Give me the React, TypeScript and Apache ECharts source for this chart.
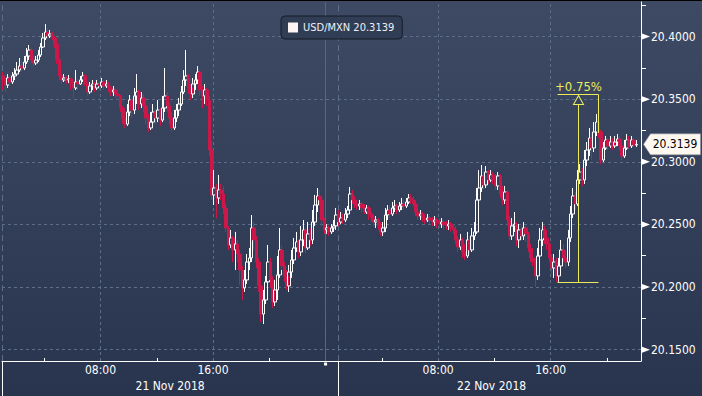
import React, { useEffect, useRef } from 'react';
import * as echarts from 'echarts';

// 10-minute bars of USD/MXN, 21 Nov 2018 01:00 -> 22 Nov 2018 22:00 (hours counted from 21 Nov 00:00)
const START_HOUR = 1;
const BAR_HOURS = 10 / 60;
const FIRST_OPEN = 20.3685;
const CLOSE = [
  20.3653, 20.3613, 20.3669, 20.3637, 20.3685, 20.3700, 20.3732, 20.3764, 20.3748, 20.3796,
  20.3844, 20.3892, 20.3812, 20.3788, 20.3812, 20.3852, 20.3916, 20.3988, 20.4036, 20.4004,
  20.4020, 20.3988, 20.3940, 20.3812, 20.3685, 20.3653, 20.3669, 20.3653, 20.3661, 20.3621,
  20.3589, 20.3637, 20.3621, 20.3653, 20.3685, 20.3621, 20.3557, 20.3605, 20.3621, 20.3589,
  20.3621, 20.3605, 20.3637, 20.3605, 20.3621, 20.3589, 20.3557, 20.3573, 20.3541, 20.3525,
  20.3429, 20.3349, 20.3301, 20.3397, 20.3493, 20.3413, 20.3525, 20.3557, 20.3461, 20.3509,
  20.3445, 20.3349, 20.3270, 20.3317, 20.3397, 20.3349, 20.3413, 20.3333, 20.3429, 20.3525,
  20.3445, 20.3349, 20.3270, 20.3349, 20.3413, 20.3461, 20.3557, 20.3653, 20.3685, 20.3589,
  20.3541, 20.3621, 20.3653, 20.3716, 20.3573, 20.3525, 20.3573, 20.3493, 20.3094, 20.2735,
  20.2791, 20.2711, 20.2775, 20.2743, 20.2631, 20.2472, 20.2336, 20.2392, 20.2296, 20.2344,
  20.2264, 20.2136, 20.1993, 20.2057, 20.2200, 20.2232, 20.2472, 20.2376, 20.2200, 20.2009,
  20.1785, 20.1897, 20.2041, 20.2200, 20.2057, 20.1881, 20.1977, 20.2097, 20.2296, 20.2168,
  20.2089, 20.2009, 20.2120, 20.2216, 20.2312, 20.2360, 20.2280, 20.2376, 20.2456, 20.2312,
  20.2424, 20.2376, 20.2519, 20.2655, 20.2727, 20.2695, 20.2535, 20.2456, 20.2472, 20.2440,
  20.2472, 20.2488, 20.2575, 20.2519, 20.2551, 20.2535, 20.2583, 20.2615, 20.2743, 20.2695,
  20.2663, 20.2647, 20.2663, 20.2631, 20.2599, 20.2631, 20.2583, 20.2551, 20.2519, 20.2535,
  20.2488, 20.2440, 20.2472, 20.2575, 20.2615, 20.2583, 20.2631, 20.2647, 20.2615, 20.2647,
  20.2663, 20.2647, 20.2679, 20.2711, 20.2695, 20.2663, 20.2599, 20.2567, 20.2583, 20.2551,
  20.2535, 20.2551, 20.2535, 20.2519, 20.2535, 20.2519, 20.2503, 20.2519, 20.2496, 20.2488,
  20.2503, 20.2472, 20.2456, 20.2376, 20.2320, 20.2376, 20.2280, 20.2248, 20.2376, 20.2296,
  20.2408, 20.2440, 20.2695, 20.2791, 20.2887, 20.2815, 20.2918, 20.2855, 20.2895, 20.2855,
  20.2807, 20.2887, 20.2743, 20.2695, 20.2759, 20.2535, 20.2408, 20.2488, 20.2503, 20.2376,
  20.2456, 20.2408, 20.2472, 20.2424, 20.2312, 20.2232, 20.2200, 20.2089, 20.2248, 20.2376,
  20.2456, 20.2392, 20.2344, 20.2232, 20.2152, 20.2200, 20.2089, 20.2168, 20.2296, 20.2232,
  20.2200, 20.2392, 20.2583, 20.2727, 20.2663, 20.2855, 20.2918, 20.2855, 20.3014, 20.3094,
  20.3190, 20.3110, 20.3238, 20.3317, 20.3238, 20.3014, 20.3110, 20.3174, 20.3126, 20.3158,
  20.3126, 20.3158, 20.3182, 20.3126, 20.3046, 20.3110, 20.3174, 20.3126, 20.3174, 20.3134,
  20.3139,
];
const HIGH = [
  20.3716, 20.3669, 20.3700, 20.3685, 20.3716, 20.3748, 20.3796, 20.3828, 20.3812, 20.3844,
  20.3908, 20.3932, 20.3908, 20.3852, 20.3844, 20.3892, 20.3948, 20.4028, 20.4099, 20.4068,
  20.4052, 20.4036, 20.4004, 20.3940, 20.3828, 20.3700, 20.3700, 20.3685, 20.3693, 20.3669,
  20.3653, 20.3732, 20.3669, 20.3685, 20.3716, 20.3700, 20.3637, 20.3637, 20.3653, 20.3637,
  20.3653, 20.3645, 20.3669, 20.3653, 20.3653, 20.3637, 20.3605, 20.3605, 20.3589, 20.3573,
  20.3533, 20.3445, 20.3397, 20.3461, 20.3533, 20.3509, 20.3589, 20.3700, 20.3573, 20.3557,
  20.3541, 20.3461, 20.3381, 20.3397, 20.3461, 20.3429, 20.3493, 20.3429, 20.3525, 20.3748,
  20.3557, 20.3477, 20.3397, 20.3413, 20.3461, 20.3509, 20.3605, 20.3732, 20.3892, 20.3700,
  20.3621, 20.3669, 20.3700, 20.3764, 20.3732, 20.3605, 20.3621, 20.3589, 20.3525, 20.3174,
  20.2934, 20.2823, 20.2895, 20.2823, 20.2807, 20.2663, 20.2488, 20.2456, 20.2408, 20.2440,
  20.2376, 20.2296, 20.2168, 20.2136, 20.2264, 20.2312, 20.2575, 20.2519, 20.2408, 20.2232,
  20.2041, 20.1977, 20.2089, 20.2336, 20.2232, 20.2089, 20.2057, 20.2248, 20.2472, 20.2328,
  20.2200, 20.2136, 20.2176, 20.2296, 20.2392, 20.2440, 20.2376, 20.2488, 20.2535, 20.2472,
  20.2519, 20.2472, 20.2615, 20.2735, 20.2791, 20.2775, 20.2727, 20.2551, 20.2503, 20.2488,
  20.2503, 20.2535, 20.2631, 20.2615, 20.2599, 20.2583, 20.2631, 20.2647, 20.2799, 20.2775,
  20.2727, 20.2695, 20.2695, 20.2679, 20.2663, 20.2655, 20.2647, 20.2599, 20.2583, 20.2567,
  20.2551, 20.2519, 20.2519, 20.2631, 20.2655, 20.2647, 20.2679, 20.2695, 20.2663, 20.2679,
  20.2711, 20.2695, 20.2711, 20.2743, 20.2743, 20.2727, 20.2695, 20.2631, 20.2615, 20.2599,
  20.2567, 20.2583, 20.2567, 20.2559, 20.2567, 20.2551, 20.2551, 20.2551, 20.2535, 20.2527,
  20.2535, 20.2519, 20.2503, 20.2488, 20.2408, 20.2424, 20.2392, 20.2344, 20.2440, 20.2408,
  20.2472, 20.2519, 20.2791, 20.2934, 20.2974, 20.2950, 20.2966, 20.2934, 20.2934, 20.2918,
  20.2902, 20.2918, 20.2902, 20.2807, 20.2807, 20.2775, 20.2567, 20.2551, 20.2599, 20.2519,
  20.2503, 20.2488, 20.2519, 20.2488, 20.2440, 20.2344, 20.2312, 20.2232, 20.2312, 20.2472,
  20.2519, 20.2488, 20.2440, 20.2360, 20.2264, 20.2264, 20.2232, 20.2232, 20.2376, 20.2344,
  20.2296, 20.2456, 20.2647, 20.2791, 20.2759, 20.2934, 20.2982, 20.2950, 20.3094, 20.3158,
  20.3270, 20.3238, 20.3317, 20.3381, 20.3349, 20.3254, 20.3158, 20.3206, 20.3190, 20.3206,
  20.3190, 20.3206, 20.3222, 20.3206, 20.3158, 20.3174, 20.3222, 20.3206, 20.3206, 20.3190,
  20.3174,
];
const LOW = [
  20.3573, 20.3557, 20.3589, 20.3605, 20.3621, 20.3653, 20.3685, 20.3716, 20.3716, 20.3732,
  20.3780, 20.3812, 20.3788, 20.3764, 20.3772, 20.3796, 20.3836, 20.3908, 20.3972, 20.3980,
  20.3988, 20.3972, 20.3908, 20.3780, 20.3653, 20.3621, 20.3637, 20.3621, 20.3629, 20.3573,
  20.3509, 20.3573, 20.3589, 20.3613, 20.3637, 20.3605, 20.3525, 20.3541, 20.3573, 20.3557,
  20.3573, 20.3573, 20.3589, 20.3573, 20.3589, 20.3557, 20.3525, 20.3525, 20.3509, 20.3493,
  20.3397, 20.3301, 20.3270, 20.3286, 20.3365, 20.3349, 20.3381, 20.3461, 20.3413, 20.3429,
  20.3397, 20.3301, 20.3238, 20.3254, 20.3286, 20.3301, 20.3317, 20.3286, 20.3317, 20.3397,
  20.3397, 20.3301, 20.3238, 20.3254, 20.3317, 20.3365, 20.3445, 20.3541, 20.3605, 20.3541,
  20.3493, 20.3509, 20.3573, 20.3621, 20.3525, 20.3429, 20.3461, 20.3445, 20.3046, 20.2695,
  20.2655, 20.2551, 20.2663, 20.2695, 20.2583, 20.2440, 20.2296, 20.2312, 20.2200, 20.2136,
  20.2200, 20.2017, 20.1897, 20.1961, 20.2025, 20.2136, 20.2200, 20.2296, 20.2152, 20.1961,
  20.1721, 20.1705, 20.1865, 20.2009, 20.1993, 20.1833, 20.1849, 20.1897, 20.2073, 20.2136,
  20.2041, 20.1977, 20.1961, 20.2073, 20.2184, 20.2280, 20.2232, 20.2248, 20.2328, 20.2272,
  20.2296, 20.2328, 20.2344, 20.2488, 20.2599, 20.2647, 20.2488, 20.2424, 20.2424, 20.2408,
  20.2424, 20.2440, 20.2456, 20.2488, 20.2503, 20.2503, 20.2519, 20.2551, 20.2583, 20.2663,
  20.2631, 20.2615, 20.2615, 20.2599, 20.2583, 20.2583, 20.2535, 20.2519, 20.2488, 20.2472,
  20.2456, 20.2408, 20.2408, 20.2440, 20.2535, 20.2551, 20.2567, 20.2599, 20.2583, 20.2599,
  20.2615, 20.2615, 20.2631, 20.2663, 20.2663, 20.2647, 20.2567, 20.2535, 20.2535, 20.2519,
  20.2503, 20.2519, 20.2503, 20.2488, 20.2488, 20.2472, 20.2472, 20.2472, 20.2456, 20.2456,
  20.2456, 20.2440, 20.2424, 20.2344, 20.2280, 20.2296, 20.2232, 20.2216, 20.2232, 20.2264,
  20.2280, 20.2376, 20.2424, 20.2663, 20.2759, 20.2775, 20.2791, 20.2823, 20.2839, 20.2823,
  20.2775, 20.2775, 20.2711, 20.2655, 20.2663, 20.2488, 20.2376, 20.2376, 20.2440, 20.2328,
  20.2312, 20.2376, 20.2376, 20.2360, 20.2280, 20.2200, 20.2168, 20.2001, 20.2057, 20.2200,
  20.2328, 20.2344, 20.2296, 20.2200, 20.2104, 20.2073, 20.2041, 20.2041, 20.2136, 20.2200,
  20.2152, 20.2168, 20.2360, 20.2551, 20.2615, 20.2647, 20.2823, 20.2807, 20.2823, 20.2966,
  20.3046, 20.3014, 20.3078, 20.3206, 20.3190, 20.2982, 20.2998, 20.3094, 20.3094, 20.3110,
  20.3094, 20.3110, 20.3126, 20.3094, 20.3014, 20.3030, 20.3094, 20.3110, 20.3110, 20.3118,
  20.3118,
];

const SERIES_NAME = 'USD/MXN';
const LAST_PRICE = 20.3139;

const X_MIN = 1;
const X_MAX = 46.42;
const Y_MIN = 20.14098;
const Y_MAX = 20.42754;
const Y_LABELS = [20.15, 20.2, 20.25, 20.3, 20.35, 20.4];
const Y_MINOR = [20.175, 20.225, 20.275, 20.325, 20.375, 20.425];
const X_TICKS = [4, 8, 12, 16, 20, 24, 28, 32, 36, 40, 44];
const X_LABEL_HOURS = [8, 16, 32, 40];
const X_GRID_HOURS = [8, 16, 32, 40];
const MIDNIGHT_HOUR = 24;
const DATE_BREAK_HOURS = [1, 24.9];
const DATE_LABEL_HOURS = [12.95, 35.8];
const DATE_LABELS = ['21 Nov 2018', '22 Nov 2018'];

// measuring annotation
const ANN_START = 40.485;
const ANN_END = 43.399;
const ANN_MID = 41.978;
const ANN_LOW = 20.20364;
const ANN_HIGH = 20.35371;
const ANN_PEAK = 20.323;
const ANN_TEXT = '+0.75%';

const FONT = "'DejaVu Sans Condensed', 'Liberation Sans Narrow', 'DejaVu Sans', sans-serif";
const GRID_COLOR = '#5d6e88';
const YELLOW = '#ecec5a';
const RED = '#cc174b';

export default function App() {
  const ref = useRef<HTMLDivElement>(null);

  useEffect(() => {
    document.body.style.margin = '0';
    if (!ref.current) return;
    const chart = echarts.init(ref.current, undefined, { renderer: 'svg' });

    const candles = CLOSE.map((c, i) => {
      const open = i === 0 ? FIRST_OPEN : CLOSE[i - 1];
      const t = START_HOUR + (i + 0.5) * BAR_HOURS;
      return [t, open, c, LOW[i], HIGH[i]];
    });

    const nearest = (arr: number[], v: number) => {
      let best = 0;
      arr.forEach((a, i) => {
        if (Math.abs(a - v) < Math.abs(arr[best] - v)) best = i;
      });
      return best;
    };

    const yel = { color: YELLOW, width: 1, type: 'solid' as const };

    const option: any = {
      animation: false,
      backgroundColor: 'transparent',
      textStyle: { fontFamily: FONT },
      grid: { left: 2, right: 61, top: 2, bottom: 35 },
      legend: {
        show: true,
        left: 281,
        top: 16,
        data: [{ name: SERIES_NAME, icon: 'rect', itemStyle: { color: '#fff4f4', borderWidth: 0 } }],
        itemWidth: 10,
        itemHeight: 10,
        padding: [6, 8, 6, 7],
        backgroundColor: '#313d55',
        borderColor: '#161c29',
        borderWidth: 1,
        borderRadius: 4,
        selectedMode: false,
        formatter: (n: string) => `${n} ${LAST_PRICE.toFixed(4)}`,
        textStyle: { color: '#eef1f5', fontSize: 11, fontFamily: FONT },
      },
      xAxis: [
        {
          type: 'value',
          min: X_MIN,
          max: X_MAX,
          position: 'bottom',
          axisLine: { show: true, onZero: false, lineStyle: { color: '#ffffff', width: 1 } },
          axisTick: { show: true, customValues: X_TICKS, inside: true, length: 3, lineStyle: { color: '#ffffff' } },
          axisLabel: {
            show: true,
            customValues: X_LABEL_HOURS,
            formatter: (v: number) => `${String(Math.round(v) % 24).padStart(2, '0')}:00`,
            color: '#ffffff',
            fontSize: 12,
            fontFamily: FONT,
            margin: 3,
          },
          splitLine: { show: false },
        },
        {
          type: 'value',
          min: X_MIN,
          max: X_MAX,
          position: 'bottom',
          axisLine: { show: false, onZero: false },
          axisTick: { show: true, customValues: DATE_BREAK_HOURS, inside: false, length: 35, lineStyle: { color: '#ffffff' } },
          axisLabel: {
            show: true,
            customValues: DATE_LABEL_HOURS,
            formatter: (v: number) => DATE_LABELS[nearest(DATE_LABEL_HOURS, v)],
            color: '#ffffff',
            fontSize: 12,
            fontFamily: FONT,
            margin: 19,
          },
          splitLine: { show: false },
        },
      ],
      yAxis: [
        {
          type: 'value',
          position: 'right',
          min: Y_MIN,
          max: Y_MAX,
          axisLine: { show: true, onZero: false, lineStyle: { color: '#ffffff', width: 1 } },
          axisTick: { show: false, customValues: Y_LABELS },
          axisLabel: {
            show: true,
            customValues: Y_LABELS,
            formatter: (v: number) => v.toFixed(4),
            color: '#ffffff',
            fontSize: 12,
            fontFamily: FONT,
            margin: 10,
          },
          splitLine: { show: true, lineStyle: { color: GRID_COLOR, type: [3, 3], width: 1 } },
        },
        {
          type: 'value',
          position: 'right',
          min: Y_MIN,
          max: Y_MAX,
          axisLine: { show: false, onZero: false },
          axisTick: { show: true, customValues: Y_MINOR, length: 5, lineStyle: { color: '#ffffff' } },
          axisLabel: { show: false },
          splitLine: { show: false },
        },
      ],
      series: [
        {
          name: 'gridLines',
          type: 'line',
          xAxisIndex: 0,
          yAxisIndex: 0,
          data: [],
          silent: true,
          z: 1,
          markLine: {
            silent: true,
            z: 1,
            symbol: ['none', 'none'],
            label: { show: false },
            animation: false,
            data: [
              ...X_GRID_HOURS.map((h) => ({ xAxis: h, lineStyle: { color: GRID_COLOR, type: [3, 3], width: 1 } })),
              ...DATE_BREAK_HOURS.map((h) => ({ xAxis: h, lineStyle: { color: GRID_COLOR, type: [6, 4], width: 1 } })),
              { xAxis: MIDNIGHT_HOUR, lineStyle: { color: '#56677f', type: 'solid', width: 1 } },
            ],
          },
        },
        {
          name: SERIES_NAME,
          type: 'candlestick',
          xAxisIndex: 0,
          yAxisIndex: 0,
          data: candles,
          encode: { x: 0, y: [1, 2, 3, 4] },
          barWidth: 3,
          z: 2,
          itemStyle: {
            color: 'rgba(0,0,0,0)',
            color0: RED,
            borderColor: '#ffffff',
            borderColor0: RED,
            borderWidth: 1,
          },
        },
        {
          name: 'annotation',
          type: 'line',
          xAxisIndex: 0,
          yAxisIndex: 0,
          data: [],
          silent: true,
          clip: false,
          z: 10,
          markLine: {
            silent: true,
            z: 10,
            symbol: ['none', 'none'],
            label: { show: false },
            animation: false,
            data: [
              [{ coord: [ANN_START, ANN_LOW], lineStyle: yel }, { coord: [ANN_END, ANN_LOW] }],
              [{ coord: [ANN_START, ANN_HIGH], lineStyle: yel }, { coord: [ANN_END, ANN_HIGH] }],
              [{ coord: [ANN_MID, ANN_LOW], lineStyle: yel }, { coord: [ANN_MID, ANN_HIGH] }],
              [{ coord: [ANN_END, ANN_HIGH], lineStyle: yel }, { coord: [ANN_END, ANN_PEAK] }],
            ],
          },
          markPoint: {
            silent: true,
            z: 11,
            animation: false,
            data: [
              {
                coord: [ANN_MID, ANN_HIGH],
                symbol: 'triangle',
                symbolSize: [10, 9],
                symbolOffset: [0, 5.5],
                itemStyle: { color: '#37435c', borderColor: YELLOW, borderWidth: 1 },
                label: { show: false },
              },
              {
                coord: [ANN_MID, ANN_HIGH],
                symbol: 'circle',
                symbolSize: 1,
                itemStyle: { color: 'rgba(0,0,0,0)' },
                label: {
                  show: true,
                  position: 'top',
                  distance: 1,
                  formatter: ANN_TEXT,
                  color: YELLOW,
                  fontSize: 13,
                  fontFamily: FONT,
                },
              },
              ...Y_LABELS.map((v) => ({
                coord: [X_MAX, v],
                symbol: 'triangle',
                symbolSize: [6, 8],
                symbolRotate: -90,
                symbolOffset: [5, 0],
                itemStyle: { color: '#ffffff' },
                label: { show: false },
              })),
              {
                coord: [MIDNIGHT_HOUR, Y_MIN],
                symbol: 'rect',
                symbolSize: 3,
                symbolOffset: [0, 3],
                itemStyle: { color: '#ffffff' },
                label: { show: false },
              },
              {
                coord: [X_MAX, LAST_PRICE],
                symbol: 'path://M0 10.5 L7 0 L57 0 L57 21 L7 21 Z',
                symbolSize: [57, 21],
                symbolOffset: [31, 0],
                itemStyle: { color: '#fff8f0', borderColor: '#8a8f99', borderWidth: 0.5 },
                label: {
                  show: true,
                  position: 'inside',
                  offset: [3, 0],
                  formatter: LAST_PRICE.toFixed(4),
                  color: '#000000',
                  fontSize: 12,
                  fontFamily: FONT,
                },
              },
            ],
          },
        },
      ],
    };

    chart.setOption(option);
    return () => chart.dispose();
  }, []);

  return (
    <div
      style={{
        width: 702,
        height: 396,
        background: 'linear-gradient(180deg, #3e4a63 0%, #29344e 100%)',
        boxShadow: 'inset 0 1px 0 #000',
        position: 'relative',
      }}
    >
      <div ref={ref} style={{ width: 702, height: 396 }} />
    </div>
  );
}
